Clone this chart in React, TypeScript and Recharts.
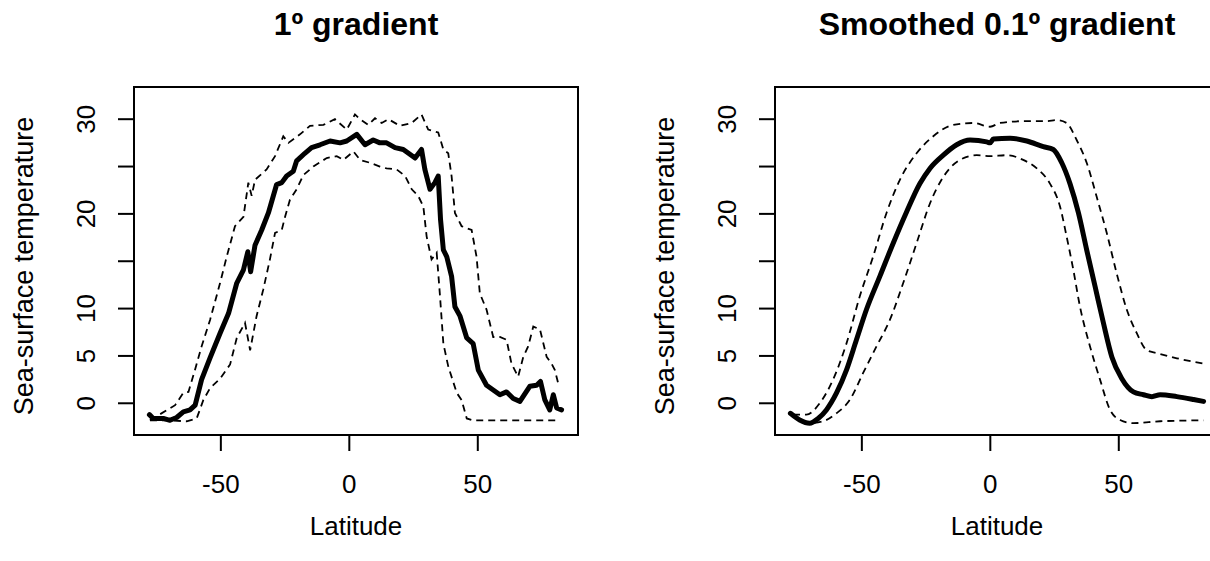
import React from 'react';
import { LineChart, Line, XAxis, YAxis, ReferenceArea } from 'recharts';

// [latitude, temperature] pairs
const rawMean: number[][] = [
  [-77.8, -1.2], [-76.3, -1.6], [-72.4, -1.6], [-69.8, -1.8], [-67.2, -1.5], [-64.6, -0.9], [-62, -0.7],
  [-60, -0.2], [-57.5, 2.5], [-54.2, 4.8], [-50.3, 7.4], [-47, 9.5], [-43.8, 12.7], [-41.2, 14.1],
  [-39.5, 16.0], [-38.4, 13.9], [-36.7, 16.7], [-34.1, 18.3], [-31.5, 20.1], [-28.3, 23.1], [-26.3, 23.3],
  [-24.4, 24.0], [-21.8, 24.5], [-20.5, 25.6], [-17.3, 26.4], [-14.7, 27.0], [-11.4, 27.3], [-7.5, 27.7],
  [-3.6, 27.5], [-1, 27.7], [2.9, 28.4], [6.1, 27.3], [9.3, 27.8], [11.9, 27.5], [14.5, 27.5], [17.8, 27.0],
  [21, 26.8], [25.6, 25.9], [28.1, 26.8], [29.4, 24.7], [31.4, 22.6], [33.3, 23.3], [34.6, 24.0],
  [35.5, 19.4], [36.6, 16.2], [37.9, 15.5], [39.8, 13.4], [41.1, 10.2], [43.1, 9.2], [45.7, 6.9],
  [48.2, 6.3], [50.2, 3.5], [53.4, 1.9], [58.6, 0.9], [61.2, 1.2], [63.8, 0.5], [66.4, 0.2], [70.3, 1.8],
  [72.9, 1.9], [74.4, 2.3], [76.1, 0.35], [78, -0.7], [79.4, 0.9], [80.7, -0.5], [82.6, -0.7],
];

const rawUpper: number[][] = [
  [-77.6, -1.8], [-67.8, -0.2], [-64.6, 1.1], [-62.6, 1.2], [-60.1, 3.5], [-57.5, 6.0], [-54.2, 8.8],
  [-50.3, 12.7], [-47.7, 15.5], [-44.5, 18.7], [-41.2, 19.7], [-39.3, 23.3], [-38, 21.9], [-36.7, 23.6],
  [-32.2, 24.7], [-28.9, 26.1], [-25.7, 28.2], [-23.7, 27.5], [-19.2, 28.4], [-15.3, 29.3], [-10.1, 29.4],
  [-5.6, 30.0], [-1, 28.9], [2.2, 30.5], [4.2, 30.0], [7.4, 29.4], [10, 30.1], [12.6, 29.6], [15.2, 30.0],
  [19.7, 29.3], [24.3, 29.6], [28.1, 30.5], [30.7, 28.9], [34.6, 28.6], [36.6, 26.8], [38.5, 26.4],
  [39.8, 24.0], [41.1, 20.1], [43.7, 18.7], [47.6, 18.3], [49.5, 15.5], [50.8, 11.6], [53.4, 9.9],
  [56, 7.0], [58.6, 7.0], [61.2, 6.7], [63.1, 4.2], [65.7, 2.8], [67.7, 4.9], [69.6, 6.0], [71.6, 8.1],
  [74.2, 7.8], [76.8, 4.9], [78.7, 4.2], [80, 3.5], [81.3, 2.1],
];

const rawLower: number[][] = [
  [-77.6, -1.8], [-71.1, -1.8], [-63.3, -1.9], [-59.4, -1.6], [-56.8, 0.35], [-54.2, 1.6], [-50.3, 2.6],
  [-46.4, 4.1], [-43.8, 6.9], [-40.6, 8.5], [-38.6, 5.6], [-36.1, 9.2], [-33.5, 12.0], [-30.9, 15.2],
  [-28.9, 18.0], [-26.3, 18.3], [-25, 19.7], [-23.1, 21.5], [-20.5, 22.6], [-17.9, 24.1], [-14, 25.0],
  [-8.8, 25.9], [-4.9, 26.1], [-2.3, 25.7], [1.6, 26.6], [4.2, 25.7], [8, 25.4], [11.9, 25.0],
  [14.5, 24.8], [18.4, 24.7], [21.7, 24.0], [24.3, 22.6], [26.8, 21.9], [28.8, 20.8], [30.1, 17.6],
  [32, 15.2], [34, 15.9], [35.3, 11.3], [36.6, 6.3], [38.5, 3.9], [41.8, 1.1], [43.7, 0.35], [45.7, -1.6],
  [48.2, -1.8], [59.9, -1.8], [72.9, -1.8], [81.3, -1.8],
];

const smoothMean: number[][] = [
  [-77.8, -1.06], [-74.2, -1.76], [-70.3, -2.1], [-67, -1.6], [-63.8, -0.7], [-59.9, 1.06], [-56, 3.5],
  [-52.1, 6.7], [-48.2, 9.9], [-43, 13.4], [-37.8, 16.9], [-32.6, 20.2], [-27.4, 23.2], [-23.5, 24.8],
  [-18.3, 26.2], [-13.1, 27.3], [-7.9, 27.8], [-1.4, 27.6], [-0.1, 27.5], [1.2, 27.9], [7.7, 28.0],
  [14.2, 27.7], [20.6, 27.1], [24.5, 26.8], [27.8, 25.4], [31, 23.2], [34.3, 20.1], [37.5, 16.2],
  [40.8, 12.3], [44, 8.5], [47.3, 4.9], [51.2, 2.6], [55.7, 1.2], [59.6, 0.9], [62.9, 0.7], [66.1, 0.9],
  [72.6, 0.7], [79.1, 0.4], [83, 0.2],
];

const smoothUpper: number[][] = [
  [-76.8, -1.2], [-71.6, -1.2], [-66.4, 0], [-61.2, 2.5], [-56, 6.3], [-50.8, 11.3], [-45.6, 15.5],
  [-40.4, 20.1], [-35.2, 23.6], [-28.7, 26.4], [-22.2, 28.2], [-14.4, 29.4], [-6.6, 29.6], [-0.1, 29.2],
  [3.8, 29.6], [14.2, 29.8], [21.9, 29.8], [25.8, 29.9], [29.7, 29.6], [33.6, 27.8], [37.5, 25.4],
  [41.4, 21.8], [45.3, 18.0], [49.2, 13.7], [53.1, 9.9], [57, 7.4], [60.9, 5.6], [64.8, 5.3],
  [72.6, 4.75], [83, 4.2],
];

const smoothLower: number[][] = [
  [-76.8, -1.2], [-70.3, -2.1], [-65.1, -1.9], [-59.9, -1.06], [-54.7, 0.35], [-49.5, 3.2], [-44.3, 6.0],
  [-39.1, 8.8], [-33.9, 12.7], [-28.7, 16.9], [-23.5, 21.1], [-18.3, 23.9], [-11.8, 25.7], [-5.3, 26.2],
  [-0.1, 26.1], [6.4, 26.2], [12.8, 25.7], [18.1, 24.8], [23.2, 23.2], [27.1, 20.8], [29.7, 17.6],
  [32.3, 14.1], [34.9, 10.2], [38.8, 6.0], [42.7, 2.5], [46.6, -0.7], [50.5, -1.76], [55.7, -2.1],
  [66.1, -1.9], [83, -1.8],
];

const xTicks = [-50, 0, 50];
const yTicks = [0, 5, 10, 15, 20, 25, 30];
const yLabelled = [0, 5, 10, 20, 30];

const X_DOMAIN: [number, number] = [-83.8, 89];
const Y_DOMAIN: [number, number] = [-3.35, 33.4];
const FONT = '"Liberation Sans", Arial, Helvetica, sans-serif';

const toRows = (pts: number[][]) => pts.map(([lat, t]) => ({ lat, t }));

const XTick = (props: any) => {
  const { x, y, payload } = props;
  return (
    <text x={x} y={y} dy={42} textAnchor="middle" fontSize={26} fontFamily={FONT} fill="#000">
      {payload.value}
    </text>
  );
};

const YTick = (props: any) => {
  const { x, y, payload } = props;
  if (!yLabelled.includes(payload.value)) return <g />;
  return (
    <text
      transform={`translate(${x - 23}, ${y}) rotate(-90)`}
      textAnchor="middle"
      fontSize={26}
      fontFamily={FONT}
      fill="#000"
    >
      {payload.value}
    </text>
  );
};

const Panel = ({ title, mean, upper, lower, smooth, left }: {
  title: string;
  mean: number[][];
  upper: number[][];
  lower: number[][];
  smooth: boolean;
  left: number;
}) => {
  const kind = smooth ? 'monotone' : 'linear';
  return (
    <div style={{ position: 'absolute', left, top: 0, width: 605, height: 561 }}>
      <div style={{
        position: 'absolute', left: 134, width: 444, top: 6, textAlign: 'center',
        fontFamily: FONT, fontWeight: 'bold', fontSize: 32, lineHeight: '36px', color: '#000',
      }}>{title}</div>
      <div style={{
        position: 'absolute', left: 134, width: 444, top: 511, textAlign: 'center',
        fontFamily: FONT, fontSize: 26, lineHeight: '30px', color: '#000',
      }}>Latitude</div>
      <div style={{
        position: 'absolute', left: 24 - 200, top: 266 - 15, width: 400, height: 30, textAlign: 'center',
        fontFamily: FONT, fontSize: 27, lineHeight: '30px', color: '#000', transform: 'rotate(-90deg)',
      }}>Sea-surface temperature</div>
      <div style={{ position: 'absolute', left: 0, top: 0 }}>
        <LineChart width={605} height={561} margin={{ top: 87, right: 27, bottom: 0, left: 0 }}>
          <XAxis
            type="number"
            dataKey="lat"
            domain={X_DOMAIN}
            allowDataOverflow
            ticks={xTicks}
            axisLine={false}
            tickSize={16}
            tickMargin={0}
            tickLine={{ stroke: '#000', strokeWidth: 2 }}
            tick={<XTick />}
            height={126}
          />
          <YAxis
            type="number"
            domain={Y_DOMAIN}
            allowDataOverflow
            ticks={yTicks}
            axisLine={false}
            tickSize={16}
            tickMargin={0}
            tickLine={{ stroke: '#000', strokeWidth: 2 }}
            tick={<YTick />}
            width={134}
          />
          <ReferenceArea
            x1={X_DOMAIN[0]}
            x2={X_DOMAIN[1]}
            y1={Y_DOMAIN[0]}
            y2={Y_DOMAIN[1]}
            fill="none"
            fillOpacity={0}
            stroke="#000"
            strokeWidth={2}
          />
          <Line data={toRows(upper)} dataKey="t" type={kind} stroke="#000" strokeWidth={1.8}
            strokeDasharray="7 5" dot={false} isAnimationActive={false} />
          <Line data={toRows(lower)} dataKey="t" type={kind} stroke="#000" strokeWidth={1.8}
            strokeDasharray="7 5" dot={false} isAnimationActive={false} />
          <Line data={toRows(mean)} dataKey="t" type={kind} stroke="#000" strokeWidth={5}
            strokeLinejoin="round" strokeLinecap="round" dot={false} isAnimationActive={false} />
        </LineChart>
      </div>
    </div>
  );
};

export default function App() {
  return (
    <div style={{
      position: 'absolute', left: 0, top: 0, width: 1210, height: 561,
      overflow: 'hidden', background: '#fff',
    }}>
      <Panel title="1º gradient" mean={rawMean} upper={rawUpper} lower={rawLower} smooth={false} left={0} />
      <Panel title="Smoothed 0.1º gradient" mean={smoothMean} upper={smoothUpper} lower={smoothLower} smooth left={641} />
    </div>
  );
}
